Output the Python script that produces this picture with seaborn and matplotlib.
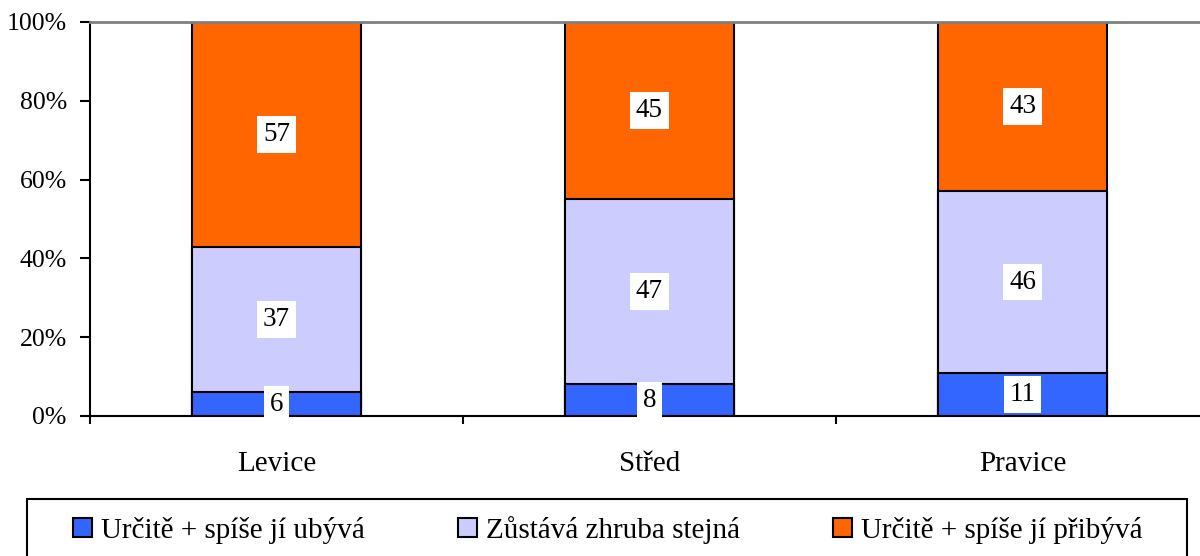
import numpy as np
import pandas as pd
import matplotlib
matplotlib.use("Agg")
import matplotlib.pyplot as plt
from matplotlib.patches import Patch, Rectangle
import seaborn as sns

# ── Data ───────────────────────────────────────────────────────────────────────
categories = ["Levice", "Střed", "Pravice"]
series_names = ["Určitě + spíše jí ubývá", "Zůstává zhruba stejná", "Určitě + spíše jí přibývá"]
ubyva = [6, 8, 11]
stejna = [37, 47, 46]
pribyva = [57, 45, 43]
colors = ["#3366FF", "#CCCCFF", "#FF6600"]
y_ticks = [0, 20, 40, 60, 80, 100]

sns.set_theme(style="white")
plt.rcParams["font.family"] = ["Liberation Serif", "DejaVu Serif"]
plt.rcParams["text.color"] = "black"
plt.rcParams["xtick.labelcolor"] = "black"
plt.rcParams["ytick.labelcolor"] = "black"

series = [ubyva, stejna, pribyva]
cum = np.cumsum(np.array(series), axis=0)

fig = plt.figure(figsize=(12, 5.56), dpi=100)
ax = fig.add_axes([90 / 1200, 1 - 416 / 556, 1119 / 1200, 394 / 556])

# draw from the top of the stack down so lower segments cover upper ones
for i in reversed(range(len(series))):
    df = pd.DataFrame({"cat": categories, "val": cum[i]})
    sns.barplot(data=df, x="cat", y="val", color=colors[i], width=0.453,
                edgecolor="black", linewidth=1.5, saturation=1, ax=ax)

# value labels in white boxes
for i, vals in enumerate(series):
    bottoms = cum[i] - np.array(vals)
    for j, v in enumerate(vals):
        ax.text(j, bottoms[j] + v / 2, str(v), ha="center", va="center",
                fontsize=19.5, color="black", zorder=5,
                bbox=dict(boxstyle="square,pad=0.22", facecolor="white", edgecolor="none"))

ax.set_xlim(-0.5, 2.5)
ax.set_ylim(0, 100)
ax.set_yticks(y_ticks)
ax.set_yticklabels([f"{t}%" for t in y_ticks], fontsize=18.5)
ax.set_xticks(range(len(categories)))
ax.set_xticklabels(categories, fontsize=21)
ax.set_xticks([-0.5, 0.5, 1.5, 2.5], minor=True)
ax.tick_params(axis="x", which="major", length=0, pad=25)
ax.tick_params(axis="x", which="minor", length=6, width=1.5, color="black", direction="out", bottom=True)
ax.tick_params(axis="y", length=7.2, width=1.5, color="black", direction="out", left=True, pad=9.5)
ax.set_xlabel("")
ax.set_ylabel("")

for s in ["left", "bottom"]:
    ax.spines[s].set_color("black")
    ax.spines[s].set_linewidth(1.5)
ax.spines["top"].set_color("#808080")
ax.spines["top"].set_linewidth(2)
ax.spines["right"].set_visible(False)

# legend frame runs off the bottom edge, as in the source
fig.add_artist(Rectangle((27 / 1200, -0.05), 1160 / 1200, 0.05 + 1 - 499 / 556,
                         transform=fig.transFigure, facecolor="white",
                         edgecolor="black", linewidth=1.5))
handles = [Patch(facecolor=c, edgecolor="black", linewidth=1.5) for c in colors]
fig.legend(handles, series_names, loc="center", ncol=3,
           bbox_to_anchor=(608 / 1200, 1 - 530 / 556), fontsize=21,
           frameon=False, handlelength=0.65, handleheight=0.65,
           handletextpad=0.3, columnspacing=3.2, borderaxespad=0)

fig.savefig("out.png", dpi=100)
